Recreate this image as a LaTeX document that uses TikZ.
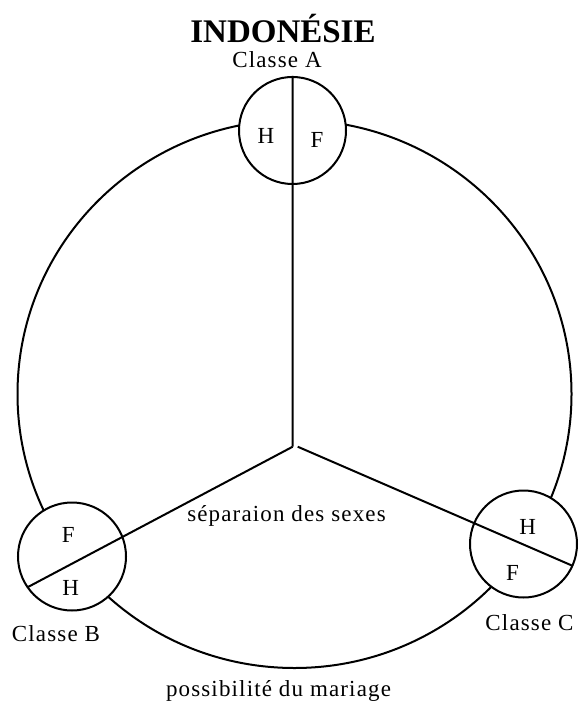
\documentclass[tikz,border=0pt]{standalone}
\usepackage{fontspec}
\setmainfont{Liberation Serif}
\newfontfamily\lsfont[LetterSpace=5]{Liberation Serif}
\begin{document}
\begin{tikzpicture}[x=1pt,y=-1pt,
  ln/.style={line width=2pt},
  cls/.style={circle, draw, line width=2pt, fill=white, minimum size=107pt, inner sep=0pt},
  lab/.style={font=\lsfont\fontsize{23}{23}\selectfont, inner sep=0pt},
  ttl/.style={font=\bfseries\fontsize{33}{33}\selectfont, inner sep=0pt}]
\useasboundingbox (0,0) rectangle (578,703);
% big cycle
\draw[ln] (294.5,394) ellipse [x radius=277pt, y radius=274pt];
% class circles
\node[cls] (A) at (292.5,130.5) {};
\node[cls, minimum size=108pt] (B) at (72,556.5) {};
\node[cls] (C) at (523.5,544) {};
% separation lines
\coordinate (J) at (292.7,446.7);
\coordinate (J2) at (297.7,446.7);
\coordinate (Bend) at (28,587);
\coordinate (Cend) at (573,566);
\draw[ln] (J) -- (A.north);
\draw[ln] (J) -- (Bend);
\draw[ln] (J2) -- (Cend);
% letters
\node[lab] (AH) at (266,136) {H};
\node[lab] (AF) at (317,140) {F};
\node[lab] (BF) at (68.3,534.5) {F};
\node[lab] (BH) at (70.7,588) {H};
\node[lab] (CH) at (527.7,527) {H};
\node[lab] (CF) at (512.5,572.5) {F};
% labels
\node[ttl, anchor=base] (title) at (283,43) {INDONÉSIE};
\node[lab, anchor=base] (la) at (277,67.7) {Classe A};
\node[lab, anchor=base] (lb) at (56,641.7) {Classe B};
\node[lab, anchor=base] (lc) at (529.5,630) {Classe C};
\node[lab, anchor=base] (sep) at (286.5,521) {séparaion des sexes};
\node[lab, anchor=base] (mar) at (278.5,696) {possibilité du mariage};
\end{tikzpicture}
\end{document}
